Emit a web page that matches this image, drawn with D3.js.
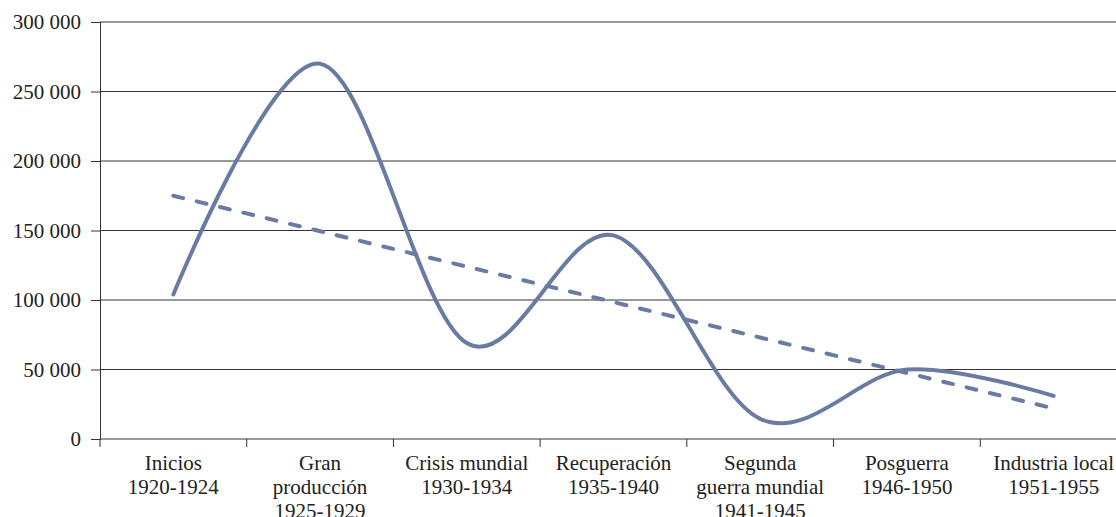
<!DOCTYPE html>
<meta charset="utf-8">
<script src="https://d3js.org/d3.v7.min.js"></script>
<style>
  body { margin: 0; background: #fff; }
  svg text { font-family: "Liberation Serif", serif !important; fill: #222; }
</style>
<div id="my_dataviz"></div>
<script>

// categories (each label split over lines)
var categories = [
  ["Inicios", "1920-1924"],
  ["Gran", "producción", "1925-1929"],
  ["Crisis mundial", "1930-1934"],
  ["Recuperación", "1935-1940"],
  ["Segunda", "guerra mundial", "1941-1945"],
  ["Posguerra", "1946-1950"],
  ["Industria local", "1951-1955"]
];
var production = [104000, 270000, 69000, 146500, 14500, 50000, 31000];
var trend = [175000, 149500, 124000, 98500, 73000, 47500, 22000];
var yTicks = [0, 50000, 100000, 150000, 200000, 250000, 300000];

var margin = {top: 22, right: 0, bottom: 78, left: 100},
    width = 1116 - margin.left - margin.right,
    height = 517 - margin.top - margin.bottom;

var svg = d3.select("#my_dataviz")
  .append("svg")
    .attr("width", width + margin.left + margin.right)
    .attr("height", height + margin.top + margin.bottom)
    .style("font-family", "Liberation Serif")
  .append("g")
    .attr("transform", "translate(" + margin.left + "," + margin.top + ")");

var keys = categories.map(function(d, i) { return i; });

var x = d3.scaleBand()
  .domain(keys)
  .range([0, 1027]);

var y = d3.scaleLinear()
  .domain([0, 300000])
  .range([height, 0]);

var fmt = function(d) { return d3.format(",")(d).replace(/,/g, " "); };

// gridlines
svg.append("g")
  .selectAll("line")
  .data(yTicks.slice(1))
  .enter()
  .append("line")
    .attr("x1", 0)
    .attr("x2", width)
    .attr("y1", function(d) { return y(d); })
    .attr("y2", function(d) { return y(d); })
    .attr("stroke", "#333")
    .attr("stroke-width", 1);

// Y axis
var yAxis = svg.append("g")
  .call(d3.axisLeft(y).tickValues(yTicks).tickSize(9).tickPadding(10).tickFormat(fmt))
  .attr("font-family", "Liberation Serif");
yAxis.select(".domain").attr("stroke", "#333");
yAxis.selectAll(".tick line").attr("stroke", "#333");
yAxis.selectAll(".tick text").style("font-size", "21px").attr("fill", "#222");

// X axis (ticks between categories)
var xAxisG = svg.append("g")
  .attr("transform", "translate(0," + height + ")");
xAxisG.append("line")
  .attr("x1", 0).attr("x2", width)
  .attr("stroke", "#333");
xAxisG.selectAll(".xt")
  .data(d3.range(keys.length + 1))
  .enter()
  .append("line")
    .attr("x1", function(d) { return d * x.bandwidth(); })
    .attr("x2", function(d) { return d * x.bandwidth(); })
    .attr("y1", 0).attr("y2", 8)
    .attr("stroke", "#333");

xAxisG.selectAll(".lab")
  .data(categories)
  .enter()
  .append("text")
    .attr("text-anchor", "middle")
    .attr("transform", function(d, i) { return "translate(" + (x(i) + x.bandwidth() / 2) + ",31)"; })
    .style("font-size", "21px")
  .selectAll("tspan")
  .data(function(d) { return d; })
  .enter()
  .append("tspan")
    .attr("x", 0)
    .attr("y", function(d, j) { return j * 24; })
    .text(function(d) { return d; });

var cx = function(d, i) { return x(i) + x.bandwidth() / 2; };

// trend line
svg.append("path")
  .datum(trend)
  .attr("fill", "none")
  .attr("stroke", "#6a7ba3")
  .attr("stroke-width", 4)
  .attr("stroke-linecap", "round")
  .attr("stroke-dasharray", "10,14")
  .attr("d", d3.line().x(cx).y(function(d) { return y(d); }));

// production line
svg.append("path")
  .datum(production)
  .attr("fill", "none")
  .attr("stroke", "#6a7ba3")
  .attr("stroke-width", 4)
  .attr("stroke-linecap", "round")
  .attr("d", d3.line().x(cx).y(function(d) { return y(d); }).curve(d3.curveCatmullRom.alpha(0)));

</script>
